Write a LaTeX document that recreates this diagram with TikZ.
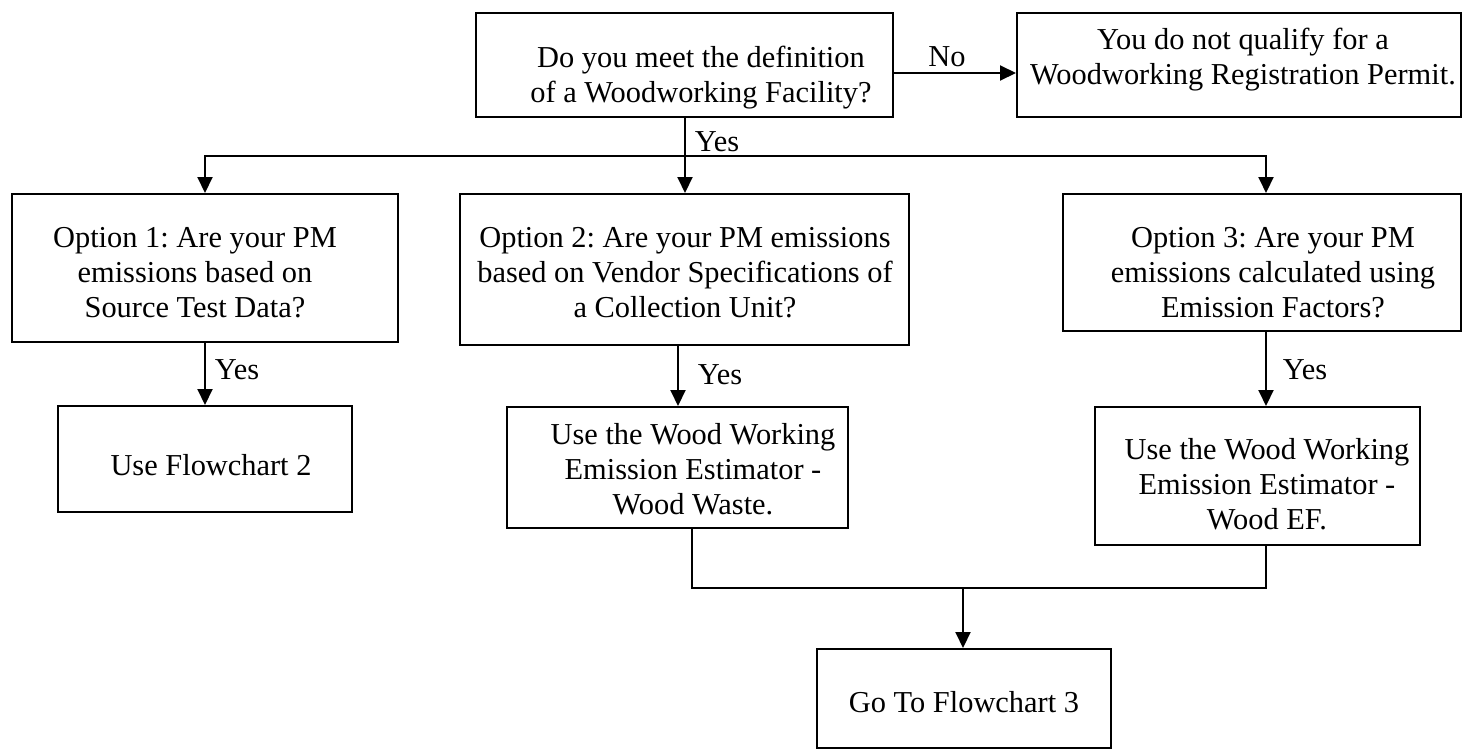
\documentclass[tikz,border=0pt]{standalone}
\usepackage{fontspec}
\setmainfont{Liberation Serif}
\usetikzlibrary{arrows.meta}
\frenchspacing
\begin{document}
\begin{tikzpicture}[x=1pt,y=-1pt,
  box/.style={draw, line width=2pt, inner sep=0pt, rectangle},
  txt/.style={align=center, inner sep=0pt, font=\fontsize{30.4}{35}\selectfont},
  conn/.style={line width=2pt},
  arr/.style={line width=2pt, -{Triangle[width=15pt,length=16pt]}}]
\useasboundingbox (0,0) rectangle (1464,750);
% boxes
\node[box, minimum width=417, minimum height=104] (q) at (684.5,65) {};
\node[box, minimum width=444, minimum height=104] (no) at (1239,65) {};
\node[box, minimum width=386, minimum height=148] (o1) at (205,268) {};
\node[box, minimum width=449, minimum height=151] (o2) at (684.5,269.5) {};
\node[box, minimum width=398, minimum height=137] (o3) at (1262,262.5) {};
\node[box, minimum width=294, minimum height=106] (fc2) at (205,459) {};
\node[box, minimum width=341, minimum height=121] (ww) at (677.5,467.5) {};
\node[box, minimum width=325, minimum height=138] (wef) at (1257.5,476) {};
\node[box, minimum width=294, minimum height=99] (go) at (964,698.5) {};
% texts
\node[txt] (qt) at (701,78) {Do you meet the definition\\of a Woodworking Facility?};
\node[txt] (not) at (1243,60) {You do not qualify for a\\Woodworking Registration Permit.};
\node[txt] (o1t) at (195,273) {Option 1: Are your PM\\emissions based on\\Source Test Data?};
\node[txt] (o2t) at (685,273) {Option 2: Are your PM emissions\\based on Vendor Specifications of\\a Collection Unit?};
\node[txt] (o3t) at (1273,273) {Option 3: Are your PM\\emissions calculated using\\Emission Factors?};
\node[txt] (fc2t) at (211,465) {Use Flowchart 2};
\node[txt] (wwt) at (693,469) {Use the Wood Working\\Emission Estimator -\\Wood Waste.};
\node[txt] (weft) at (1267,484) {Use the Wood Working\\Emission Estimator -\\Wood EF.};
\node[txt] (got) at (964,702) {Go To Flowchart 3};
% labels
\node[txt] (lno) at (947,57) {No};
\node[txt] (ly0) at (717,142) {Yes};
\node[txt] (ly1) at (237,370) {Yes};
\node[txt] (ly2) at (720,375) {Yes};
\node[txt] (ly3) at (1305,370) {Yes};
% helper coordinates
\coordinate (split) at (685,156);
\coordinate (c2) at (678,0);
\coordinate (c2b) at (692,0);
\coordinate (c3) at (1266,0);
\coordinate (m) at (963,588);
% connectors
\draw[arr] ([yshift=-8pt]q.east) -- ([yshift=-8pt]no.west);
\draw[conn] (q.south -| split) -- (split);
\draw[arr] (split) -| (o1.north);
\draw[arr] (split) -| (o3.north -| c3);
\draw[arr] (split) -- (o2.north -| split);
\draw[arr] (o1.south) -- (fc2.north);
\draw[arr] (o2.south -| c2) -- (ww.north -| c2);
\draw[arr] (o3.south -| c3) -- (wef.north -| c3);
\draw[conn] (ww.south -| c2b) |- (m) -| (wef.south -| c3);
\draw[arr] (m) -- (go.north -| m);
\end{tikzpicture}
\end{document}
